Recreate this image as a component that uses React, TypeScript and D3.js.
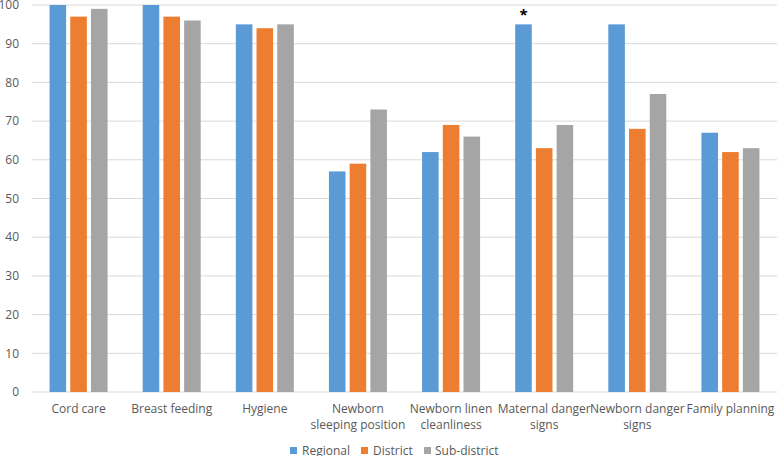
import React from "react";
import * as d3 from "d3";

const categories: string[][] = [
  ["Cord care"],
  ["Breast feeding"],
  ["Hygiene"],
  ["Newborn", "sleeping position"],
  ["Newborn linen", "cleanliness"],
  ["Maternal danger", "signs"],
  ["Newborn danger", "signs"],
  ["Family planning"],
];
const seriesNames = ["Regional", "District", "Sub-district"];
const regional = [100, 100, 95, 57, 62, 95, 95, 67];
const district = [97, 97, 94, 59, 69, 63, 68, 62];
const subDistrict = [99, 96, 95, 73, 66, 69, 77, 63];
const colors = ["#5B9BD5", "#ED7D31", "#A5A5A5"];
const yTicks = [0, 10, 20, 30, 40, 50, 60, 70, 80, 90, 100];
const starredIndex = 5;

const W = 778;
const H = 456;
const left = 32;
const right = 777;
const top = 5;
const bottom = 392;
const font = "Open Sans, sans-serif";

export default function App() {
  const series = [regional, district, subDistrict];
  const x0 = d3
    .scaleBand<number>()
    .domain(categories.map((_, i) => i))
    .range([left, right])
    .paddingInner(0)
    .paddingOuter(0);
  const groupW = 58;
  const x1 = d3
    .scaleBand<number>()
    .domain([0, 1, 2])
    .range([0, groupW])
    .paddingInner(0.2)
    .paddingOuter(0);
  const y = d3.scaleLinear().domain([0, 100]).range([bottom, top]);

  return (
    <svg
      width={W}
      height={H}
      style={{ position: "absolute", left: 0, top: 0, background: "#fff" }}
    >
      {yTicks.map((t) => (
        <g key={t}>
          <line
            x1={left}
            x2={right}
            y1={y(t)}
            y2={y(t)}
            stroke="#D9D9D9"
            strokeWidth={1}
          />
          <text
            x={19}
            y={y(t)}
            dy="0.35em"
            textAnchor="end"
            fontFamily={font}
            fontSize={12}
            fill="#595959"
          >
            {t}
          </text>
        </g>
      ))}
      {categories.map((c, i) => {
        const cx = (x0(i) as number) + x0.bandwidth() / 2;
        const gx = cx - groupW / 2;
        return (
          <g key={i}>
            {series.map((s, k) => (
              <rect
                key={k}
                x={gx + (x1(k) as number)}
                y={y(s[i])}
                width={x1.bandwidth()}
                height={y(0) - y(s[i])}
                fill={colors[k]}
              />
            ))}
            {c.map((line, j) => (
              <text
                key={j}
                x={cx}
                y={409 + j * 16}
                dy="0.35em"
                textAnchor="middle"
                fontFamily={font}
                fontSize={12}
                fill="#595959"
              >
                {line}
              </text>
            ))}
            {i === starredIndex && (
              <text
                x={gx + (x1(0) as number) + x1.bandwidth() / 2}
                y={y(regional[i]) - 4}
                textAnchor="middle"
                fontFamily={font}
                fontSize={15}
                fontWeight="bold"
                fill="#000"
              >
                *
              </text>
            )}
          </g>
        );
      })}
      {(() => {
        const items = [
          { x: 290, tx: 302 },
          { x: 361, tx: 373 },
          { x: 424, tx: 435 },
        ];
        return seriesNames.map((n, k) => (
          <g key={n}>
            <rect x={items[k].x} y={447} width={7} height={7} fill={colors[k]} />
            <text
              x={items[k].tx}
              y={451}
              dy="0.35em"
              fontFamily={font}
              fontSize={12}
              fill="#595959"
            >
              {n}
            </text>
          </g>
        ));
      })()}
    </svg>
  );
}
